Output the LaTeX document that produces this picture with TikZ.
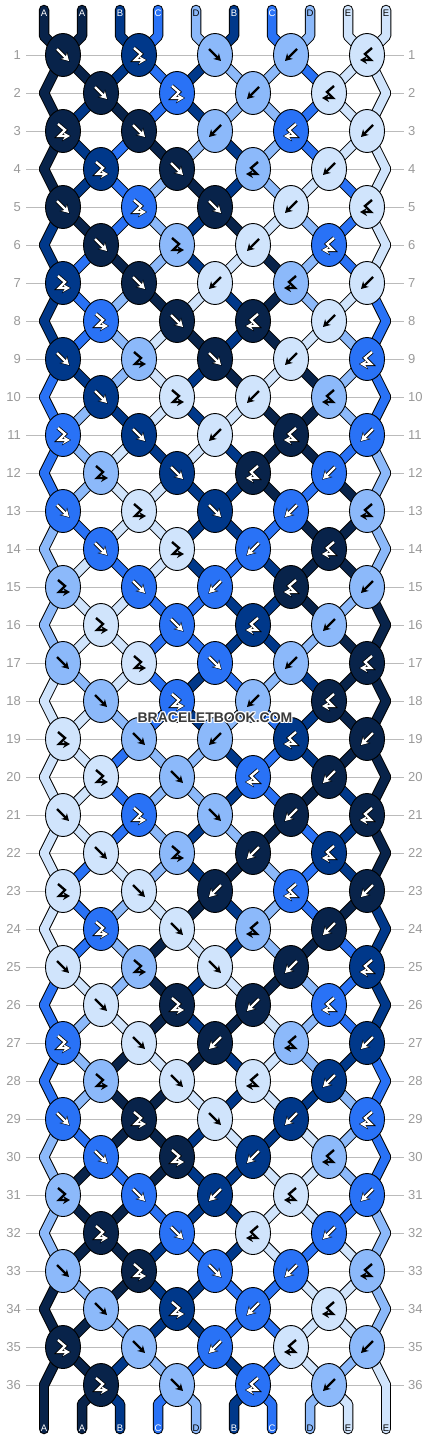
\documentclass[tikz,border=0pt]{standalone}
\usepackage{fontspec}
\setmainfont{Liberation Sans}
\usetikzlibrary{arrows.meta,shapes.geometric}

\definecolor{sA}{HTML}{08234A}
\definecolor{sB}{HTML}{00388A}
\definecolor{sC}{HTML}{2972F6}
\definecolor{sD}{HTML}{8CB9FA}
\definecolor{sE}{HTML}{D0E4FC}
\colorlet{tA}{white}
\colorlet{tB}{white}
\colorlet{tC}{white}
\colorlet{tD}{black}
\colorlet{tE}{black}
\colorlet{oA}{black}
\colorlet{oB}{black}
\colorlet{oC}{black}
\colorlet{oD}{sD}
\colorlet{oE}{sE}
\definecolor{rowgray}{HTML}{BBBBBB}
\definecolor{numgray}{HTML}{999999}
\definecolor{markgray}{HTML}{3A3A3A}

\tikzset{
  knot/.style={ellipse,draw=black,line width=.9pt,fill=s#1,minimum width=35pt,minimum height=43pt,inner sep=0pt},
  strand/.style={line cap=round,line join=round},
  glyph/.style={draw=t#1,line width=2.4pt,line join=miter,-{Stealth[length=7pt,width=8pt]}},
  glyphrim/.style={draw=o#1,line width=4pt,line join=miter,shorten >=-1pt,-{Stealth[length=9pt,width=10.5pt]}},
  rownum/.style={text=numgray,font=\fontsize{13}{13}\selectfont,inner sep=0pt},
  rowline/.style={draw=rowgray,line width=.8pt},
  endlabel/.style={text=t#1,font=\fontsize{9.5}{10}\selectfont,inner sep=0pt},
  wmark/.style={font=\bfseries\fontsize{14}{14}\selectfont,inner sep=0pt},
  pics/glyph-f/.style={code={
    \draw[glyphrim=#1] (-6,-6) -- (6,6); \draw[glyph=#1] (-6,-6) -- (6,6);}},
  pics/glyph-b/.style={code={
    \draw[glyphrim=#1] (6,-6) -- (-6,6); \draw[glyph=#1] (6,-6) -- (-6,6);}},
  pics/glyph-fb/.style={code={
    \draw[glyphrim=#1] (-5,-7) -- (2,-1) -- (-4,5) -- (7,5);
    \draw[glyph=#1] (-5,-7) -- (2,-1) -- (-4,5) -- (7,5);}},
  pics/glyph-bf/.style={code={
    \draw[glyphrim=#1] (5,-7) -- (-2,-1) -- (4,5) -- (-7,5);
    \draw[glyph=#1] (5,-7) -- (-2,-1) -- (4,5) -- (-7,5);}},
}

% colours of the ten strings after each row (row 0 = top)
\newcommand\strandrows{%
  {A,A,B,C,D,B,C,D,E,E},{A,A,B,C,B,D,D,C,E,E},{A,B,A,C,B,D,D,C,E,E},
  {A,B,C,A,D,B,D,C,E,E},{A,B,C,D,A,B,D,E,C,E},{B,A,C,D,B,A,E,D,C,E},
  {B,C,A,D,B,E,A,D,C,E},{B,C,D,A,E,B,A,D,E,C},{B,C,D,E,A,B,A,E,D,C},
  {C,B,D,E,B,A,E,A,D,C},{C,D,B,E,B,E,A,A,D,C},{C,D,E,B,E,B,A,A,C,D},
  {C,D,E,E,B,B,A,C,A,D},{D,C,E,E,B,B,C,A,A,D},{D,E,C,E,B,C,B,A,A,D},
  {D,E,E,C,C,B,B,A,D,A},{D,E,E,C,C,B,B,D,A,A},{E,D,E,C,B,C,D,B,A,A},
  {E,E,D,C,B,D,C,B,A,A},{E,E,C,D,D,B,C,B,A,A},{E,E,C,D,D,B,C,A,B,A},
  {E,E,C,D,B,D,A,C,B,A},{E,C,E,D,B,A,D,C,B,A},{E,C,D,E,A,B,D,C,A,B},
  {E,C,D,A,E,B,D,A,C,B},{C,E,D,A,B,E,A,D,C,B},{C,D,E,A,B,A,E,D,C,B},
  {C,D,A,E,A,B,E,D,B,C},{C,D,A,A,E,B,E,B,D,C},{D,C,A,A,B,E,B,E,D,C},
  {D,A,C,A,B,B,E,E,D,C},{D,A,A,C,B,B,E,E,C,D},{D,A,A,B,C,B,E,C,E,D},
  {A,D,A,B,B,C,C,E,E,D},{A,A,D,B,B,C,C,E,E,D},{A,A,B,D,C,B,C,E,D,E},
  {A,A,B,C,D,B,C,D,E,E}}

% knot type / knot colour, row by row
\newcommand\knotrows{%
  {f/A,fb/B,f/D,b/D,bf/E},{f/A,fb/C,b/D,bf/E},{fb/A,f/A,b/D,bf/C,b/E},{fb/B,f/A,bf/D,b/E},
  {f/A,fb/C,f/A,b/E,bf/E},{f/A,fb/D,b/E,bf/C},{fb/B,f/A,b/E,bf/D,b/E},{fb/C,f/A,bf/A,b/E},
  {f/B,fb/D,f/A,b/E,bf/C},{f/B,fb/E,b/E,bf/D},{fb/C,f/B,b/E,bf/A,b/C},{fb/D,f/B,bf/A,b/C},
  {f/C,fb/E,f/B,b/C,bf/D},{f/C,fb/E,b/C,bf/A},{fb/D,f/C,b/C,bf/A,b/D},{fb/E,f/C,bf/B,b/D},
  {f/D,fb/E,f/C,b/D,bf/A},{f/D,fb/C,b/D,bf/A},{fb/E,f/D,b/D,bf/B,b/A},{fb/E,f/D,bf/C,b/A},
  {f/E,fb/C,f/D,b/A,bf/A},{f/E,fb/D,b/A,bf/B},{fb/E,f/E,b/A,bf/C,b/A},{fb/C,f/E,bf/D,b/A},
  {f/E,fb/D,f/E,b/A,bf/B},{f/E,fb/A,b/A,bf/C},{fb/C,f/E,b/A,bf/D,b/B},{fb/D,f/E,bf/E,b/B},
  {f/C,fb/A,f/E,b/B,bf/C},{f/C,fb/A,b/B,bf/D},{fb/D,f/C,b/B,bf/E,b/C},{fb/A,f/C,bf/E,b/C},
  {f/D,fb/A,f/C,b/C,bf/D},{f/D,fb/B,b/C,bf/E},{fb/A,f/D,b/C,bf/E,b/D},{fb/A,f/D,bf/C,b/D}}

\begin{document}
\begin{tikzpicture}[x=1pt,y=-1pt]
\useasboundingbox (0,0) rectangle (430,1440);

% row guides and numbers
\foreach \r in {1,...,36}{
  \draw[rowline] (26,{17+38*\r}) -- (404,{17+38*\r});
  \node[rownum,anchor=east] (ln-\r) at (21,{17+38*\r}) {\r};
  \node[rownum,anchor=west] (rn-\r) at (408,{17+38*\r}) {\r};
}

% where each string passes in each row
\foreach \r in {1,...,36}
  \foreach \i in {0,...,9}{
    \pgfmathsetmacro\px{isodd(\r) ? 63+38*(\i-mod(\i,2)) : (\i==0 ? 44 : (\i==9 ? 386 : 63+38*(\i-1+mod(\i,2))))}
    \coordinate (p-\r-\i) at (\px,{17+38*\r});
  }
\foreach \i in {0,...,9}{
  \coordinate (t-\i) at ({44+38*\i},10);
  \coordinate (u-\i) at ({44+38*\i},36);
  \coordinate (v-\i) at ({44+38*\i},1404);
  \coordinate (w-\i) at ({44+38*\i},1429);
}

% strings: black rim first, colour on top
\foreach \pass/\wd in {0/10.5,1/8.5}
  \foreach \st [count=\r from 0] in \strandrows{
    \pgfmathtruncatemacro\rn{\r+1}
    \foreach \c [count=\i from 0] in \st{
      \ifnum\pass=0 \def\sc{black}\else\edef\sc{s\c}\fi
      \ifnum\r=0 \draw[strand,draw=\sc,line width=\wd pt] (t-\i) -- (u-\i) -- (p-1-\i);
      \else\ifnum\r=36 \draw[strand,draw=\sc,line width=\wd pt] (p-36-\i) -- (v-\i) -- (w-\i);
      \else \draw[strand,draw=\sc,line width=\wd pt] (p-\r-\i) -- (p-\rn-\i);
      \fi\fi
    }
  }

% string letters at both ends
\foreach \c [count=\i from 0] in {A,A,B,C,D,B,C,D,E,E}{
  \node[endlabel=\c] (top-\i) at ({44+38*\i},13) {\c};
  \node[endlabel=\c] (bot-\i) at ({44+38*\i},1428) {\c};
}

% knots
\foreach \ks [count=\r] in \knotrows
  \foreach \t/\c [count=\j from 0] in \ks{
    \pgfmathsetmacro\kx{isodd(\r) ? 63+76*\j : 101+76*\j}
    \node[knot=\c] (k-\r-\j) at (\kx,{17+38*\r}) {};
    \pic at (k-\r-\j) {glyph-\t=\c};
  }

% site mark
\foreach \dx/\dy [count=\n] in {-1/0,1/0,0/-1,0/1,-1/-1,1/1,-1/1,1/-1}
  \node[wmark,text=white] (halo-\n) at ({215+\dx},{718+\dy}) {BRACELETBOOK.COM};
\node[wmark,text=markgray] (mark) at (215,718) {BRACELETBOOK.COM};
\end{tikzpicture}
\end{document}
